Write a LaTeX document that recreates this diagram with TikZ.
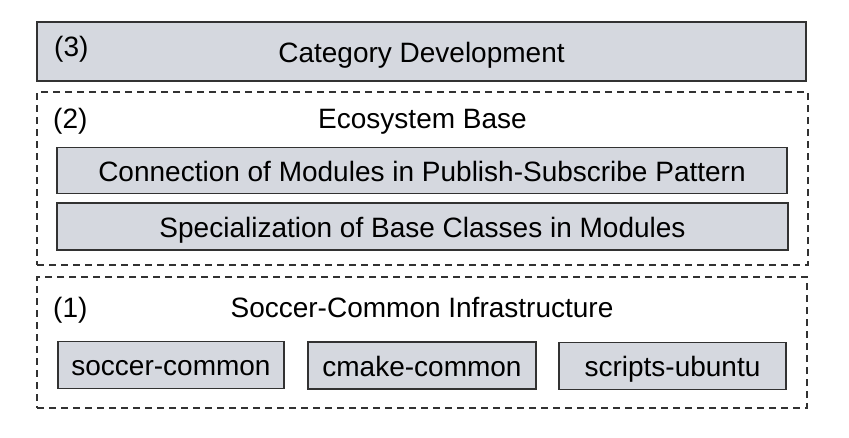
\documentclass[tikz,border=0pt]{standalone}
\usepackage{fontspec}
\setmainfont{Liberation Sans}
\usepackage{tikz}
\usetikzlibrary{positioning,calc}

\definecolor{boxgray}{RGB}{213,216,223}
\definecolor{linegray}{RGB}{50,50,50}
\newcommand{\layerfont}{\fontsize{28}{32}\selectfont}

\begin{document}
\begin{tikzpicture}[
    x=1pt, y=-1pt,
    layer/.style={draw=linegray, line width=1.3pt, fill=boxgray, inner sep=0pt, minimum height=47pt,
        text height=21pt, text depth=0pt, font=\layerfont},
    group/.style={draw=linegray, dash pattern=on 7pt off 5pt, line width=1.1pt, inner sep=0pt},
    title/.style={anchor=base, inner sep=0pt, font=\layerfont},
    tag/.style={anchor=base west, inner sep=0pt, font=\layerfont}
]
\useasboundingbox (0,0) rectangle (849,437);

% Level 3
\node[layer, minimum width=769pt, minimum height=59pt] (cat) at (421.5,51.5) {Category Development};
\node[tag] (tag3) at (54,56) {(3)};

% Level 2: ecosystem base
\node[group, minimum width=771pt, minimum height=173pt] (eco) at (422.5,178.5) {};
\node[tag] (tag2) at (53,128) {(2)};
\node[title] (ecotitle) at (422.5,128) {Ecosystem Base};
\node[layer, minimum width=730pt, minimum height=46pt] (conn) at (422,170.5) {Connection of Modules in Publish-Subscribe Pattern};
\node[layer, minimum width=731pt] (spec) at (422.5,226.5) {Specialization of Base Classes in Modules};

% Level 1: infrastructure
\node[group, minimum width=770pt, minimum height=131pt] (infra) at (422,342.5) {};
\node[tag] (tag1) at (53,317) {(1)};
\node[title] (infratitle) at (422,317) {Soccer-Common Infrastructure};
\node[layer, minimum width=226pt] (soccer) at (171,365) {soccer-common};
\node[layer, minimum width=228pt] (cmake) at (422,365.5) {cmake-common};
\node[layer, minimum width=227pt] (scripts) at (672.5,366) {scripts-ubuntu};

\end{tikzpicture}
\end{document}
